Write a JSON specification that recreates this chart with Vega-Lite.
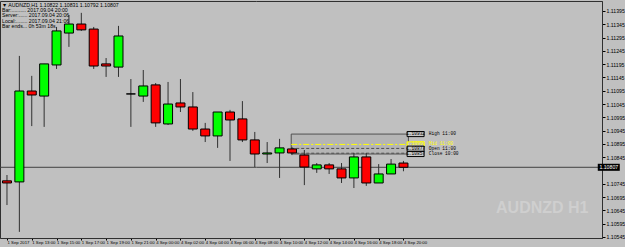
{
  "$schema": "https://vega.github.io/schema/vega-lite/v6.json",
  "width": 602,
  "height": 237,
  "autosize": {"type": "none"},
  "padding": {"left": 0, "top": 1, "right": 23, "bottom": 9},
  "background": "#c0c0c0",
  "config": {
    "view": {"stroke": "#303030", "strokeWidth": 1},
    "font": "Liberation Sans"
  },
  "title": {
    "text": ["▼ AUDNZD,H1  1.10822 1.10831 1.10792 1.10807", "Bar:.......... 2017.09.04 20:00", "Server:...... 2017.09.04 20:06", "Local:........ 2017.09.04 21:06", "Bar ends... 0h 53m 18s"],
    "anchor": "start",
    "frame": "group",
    "orient": "top",
    "baseline": "top",
    "offset": -28,
    "dx": 2,
    "fontSize": 5.2,
    "fontWeight": "normal",
    "font": "Liberation Sans",
    "color": "#000000",
    "lineHeight": 5.2
  },
  "resolve": {"scale": {"color": "independent", "fill": "independent", "stroke": "independent", "strokeDash": "independent"}},
  "datasets": {
    "candles": [
      {"i": 0, "o": 1.10756, "h": 1.10778, "l": 1.10665, "c": 1.10748, "dir": "down"},
      {"i": 1, "o": 1.10752, "h": 1.11226, "l": 1.10564, "c": 1.11094, "dir": "up"},
      {"i": 2, "o": 1.11094, "h": 1.11151, "l": 1.10962, "c": 1.11079, "dir": "down"},
      {"i": 3, "o": 1.11075, "h": 1.11196, "l": 1.10959, "c": 1.11196, "dir": "up"},
      {"i": 4, "o": 1.11192, "h": 1.11335, "l": 1.11177, "c": 1.11320, "dir": "up"},
      {"i": 5, "o": 1.11312, "h": 1.11380, "l": 1.11260, "c": 1.11346, "dir": "up"},
      {"i": 6, "o": 1.11346, "h": 1.11388, "l": 1.11320, "c": 1.11324, "dir": "down"},
      {"i": 7, "o": 1.11327, "h": 1.11335, "l": 1.11177, "c": 1.11188, "dir": "down"},
      {"i": 8, "o": 1.11196, "h": 1.11218, "l": 1.11147, "c": 1.11188, "dir": "down"},
      {"i": 9, "o": 1.11184, "h": 1.11339, "l": 1.11147, "c": 1.11301, "dir": "up"},
      {"i": 10, "o": 1.11083, "h": 1.11139, "l": 1.10959, "c": 1.11083, "dir": "up"},
      {"i": 11, "o": 1.11075, "h": 1.11173, "l": 1.11053, "c": 1.11113, "dir": "up"},
      {"i": 12, "o": 1.11117, "h": 1.11124, "l": 1.10959, "c": 1.10974, "dir": "down"},
      {"i": 13, "o": 1.10970, "h": 1.11128, "l": 1.10966, "c": 1.11045, "dir": "up"},
      {"i": 14, "o": 1.11049, "h": 1.11139, "l": 1.11015, "c": 1.11034, "dir": "down"},
      {"i": 15, "o": 1.11034, "h": 1.11090, "l": 1.10944, "c": 1.10951, "dir": "down"},
      {"i": 16, "o": 1.10951, "h": 1.10974, "l": 1.10902, "c": 1.10925, "dir": "down"},
      {"i": 17, "o": 1.10925, "h": 1.11015, "l": 1.10880, "c": 1.11015, "dir": "up"},
      {"i": 18, "o": 1.11015, "h": 1.11023, "l": 1.10831, "c": 1.10985, "dir": "down"},
      {"i": 19, "o": 1.10989, "h": 1.11056, "l": 1.10902, "c": 1.10910, "dir": "down"},
      {"i": 20, "o": 1.10910, "h": 1.10940, "l": 1.10808, "c": 1.10857, "dir": "down"},
      {"i": 21, "o": 1.10857, "h": 1.10902, "l": 1.10823, "c": 1.10861, "dir": "up"},
      {"i": 22, "o": 1.10861, "h": 1.10914, "l": 1.10767, "c": 1.10880, "dir": "up"},
      {"i": 23, "o": 1.10876, "h": 1.10884, "l": 1.10853, "c": 1.10861, "dir": "down"},
      {"i": 24, "o": 1.10853, "h": 1.10872, "l": 1.10740, "c": 1.10808, "dir": "down"},
      {"i": 25, "o": 1.10801, "h": 1.10823, "l": 1.10786, "c": 1.10816, "dir": "up"},
      {"i": 26, "o": 1.10816, "h": 1.10823, "l": 1.10782, "c": 1.10801, "dir": "down"},
      {"i": 27, "o": 1.10801, "h": 1.10823, "l": 1.10748, "c": 1.10767, "dir": "down"},
      {"i": 28, "o": 1.10767, "h": 1.10861, "l": 1.10729, "c": 1.10846, "dir": "up"},
      {"i": 29, "o": 1.10846, "h": 1.10861, "l": 1.10737, "c": 1.10748, "dir": "down"},
      {"i": 30, "o": 1.10748, "h": 1.10819, "l": 1.10748, "c": 1.10782, "dir": "up"},
      {"i": 31, "o": 1.10782, "h": 1.10838, "l": 1.10782, "c": 1.10819, "dir": "up"},
      {"i": 32, "o": 1.10823, "h": 1.10831, "l": 1.10792, "c": 1.10807, "dir": "down"}
    ],
    "box": [{"start": 22.94, "end": 32.4, "low": 1.10857, "high": 1.10932}],
    "levels": [
      {"start": 22.94, "end": 32.4, "p": 1.10893, "kind": "Mid"},
      {"start": 22.94, "end": 32.4, "p": 1.10878, "kind": "Open"},
      {"start": 22.94, "end": 32.4, "p": 1.10860, "kind": "Close"}
    ],
    "tags": [
      {"x": 32.98, "tx": 34.05, "p": 1.10932, "price": "1.10932", "name": "High 11:00", "kind": "High"},
      {"x": 32.98, "tx": 34.05, "p": 1.10893, "price": "1.10893", "name": "Mid 11:00", "kind": "Mid"},
      {"x": 32.98, "tx": 34.05, "p": 1.10877, "price": "1.10877", "name": "Open 11:00", "kind": "Open"},
      {"x": 32.98, "tx": 34.05, "p": 1.10857, "price": "1.10857", "name": "Close 10:00", "kind": "Close"}
    ],
    "current": [{"x": 48.57, "p": 1.10807, "label": "1.10807"}],
    "mark": [{"x": 43.2, "p": 1.10654, "label": "AUDNZD H1"}]
  },
  "layer": [
    {
      "data": {"name": "box"},
      "mark": {"type": "rect", "fill": "#b5b5b5", "stroke": "#505050", "strokeWidth": 1, "clip": true},
      "encoding": {
        "x": {"field": "start", "type": "quantitative", "scale": {"domain": [-0.16, 47.62], "nice": false, "zero": false},
          "axis": {"orient": "bottom", "title": null, "grid": false, "values": [0, 2, 4, 6, 8, 10, 12, 14, 16, 18, 20, 22, 24, 26, 28, 30, 32], "labelExpr": "['1 Sep 2017','1 Sep 13:00','1 Sep 15:00','1 Sep 17:00','1 Sep 19:00','1 Sep 21:00','4 Sep 00:00','4 Sep 02:00','4 Sep 04:00','4 Sep 06:00','4 Sep 08:00','4 Sep 10:00','4 Sep 12:00','4 Sep 14:00','4 Sep 16:00','4 Sep 18:00','4 Sep 20:00'][datum.value / 2]", "labelAlign": "left", "labelBaseline": "top", "labelFontSize": 4.3, "labelColor": "#000000", "labelPadding": 0, "tickSize": 2, "tickColor": "#000000", "domainColor": "#303030", "labelOverlap": false, "labelFlush": false, "labelBound": false}},
        "x2": {"field": "end"},
        "y": {"field": "low", "type": "quantitative", "scale": {"domain": [1.10541, 1.114326], "nice": false, "zero": false},
          "axis": {"orient": "right", "title": null, "grid": false, "values": [1.11395, 1.11345, 1.11295, 1.11245, 1.11195, 1.11145, 1.11095, 1.11045, 1.10995, 1.10945, 1.10895, 1.10845, 1.10745, 1.10695, 1.10645, 1.10595, 1.10545], "format": ".5f", "labelFontSize": 5.2, "labelColor": "#000000", "labelPadding": 1, "tickSize": 3, "tickColor": "#000000", "domainColor": "#303030", "labelOverlap": false, "labelFlush": false, "labelBound": false}},
        "y2": {"field": "high"}
      }
    },
    {
      "data": {"name": "levels"},
      "mark": {"type": "rule", "strokeWidth": 1, "clip": true},
      "encoding": {
        "x": {"field": "start", "type": "quantitative", "scale": {"domain": [-0.16, 47.62], "nice": false, "zero": false},
          "axis": {"orient": "bottom", "title": null, "grid": false, "values": [0, 2, 4, 6, 8, 10, 12, 14, 16, 18, 20, 22, 24, 26, 28, 30, 32], "labelExpr": "['1 Sep 2017','1 Sep 13:00','1 Sep 15:00','1 Sep 17:00','1 Sep 19:00','1 Sep 21:00','4 Sep 00:00','4 Sep 02:00','4 Sep 04:00','4 Sep 06:00','4 Sep 08:00','4 Sep 10:00','4 Sep 12:00','4 Sep 14:00','4 Sep 16:00','4 Sep 18:00','4 Sep 20:00'][datum.value / 2]", "labelAlign": "left", "labelBaseline": "top", "labelFontSize": 4.3, "labelColor": "#000000", "labelPadding": 0, "tickSize": 2, "tickColor": "#000000", "domainColor": "#303030", "labelOverlap": false, "labelFlush": false, "labelBound": false}},
        "x2": {"field": "end"},
        "y": {"field": "p", "type": "quantitative", "scale": {"domain": [1.10541, 1.114326], "nice": false, "zero": false},
          "axis": {"orient": "right", "title": null, "grid": false, "values": [1.11395, 1.11345, 1.11295, 1.11245, 1.11195, 1.11145, 1.11095, 1.11045, 1.10995, 1.10945, 1.10895, 1.10845, 1.10745, 1.10695, 1.10645, 1.10595, 1.10545], "format": ".5f", "labelFontSize": 5.2, "labelColor": "#000000", "labelPadding": 1, "tickSize": 3, "tickColor": "#000000", "domainColor": "#303030", "labelOverlap": false, "labelFlush": false, "labelBound": false}},
        "color": {"field": "kind", "type": "nominal", "scale": {"domain": ["Mid", "Open", "Close"], "range": ["#ffff00", "#505050", "#505050"]}, "legend": null},
        "strokeDash": {"field": "kind", "type": "nominal", "scale": {"domain": ["Mid", "Open", "Close"], "range": [[6, 2, 2, 2], [3, 2], [3, 2]]}, "legend": null}
      }
    },
    {
      "data": {"name": "current"},
      "mark": {"type": "rule", "color": "#404040", "strokeWidth": 1},
      "encoding": {
        "y": {"field": "p", "type": "quantitative", "scale": {"domain": [1.10541, 1.114326], "nice": false, "zero": false},
          "axis": {"orient": "right", "title": null, "grid": false, "values": [1.11395, 1.11345, 1.11295, 1.11245, 1.11195, 1.11145, 1.11095, 1.11045, 1.10995, 1.10945, 1.10895, 1.10845, 1.10745, 1.10695, 1.10645, 1.10595, 1.10545], "format": ".5f", "labelFontSize": 5.2, "labelColor": "#000000", "labelPadding": 1, "tickSize": 3, "tickColor": "#000000", "domainColor": "#303030", "labelOverlap": false, "labelFlush": false, "labelBound": false}}
      }
    },
    {
      "data": {"name": "candles"},
      "mark": {"type": "rule", "color": "#303030", "strokeWidth": 1, "clip": true},
      "encoding": {
        "x": {"field": "i", "type": "quantitative", "scale": {"domain": [-0.16, 47.62], "nice": false, "zero": false},
          "axis": {"orient": "bottom", "title": null, "grid": false, "values": [0, 2, 4, 6, 8, 10, 12, 14, 16, 18, 20, 22, 24, 26, 28, 30, 32], "labelExpr": "['1 Sep 2017','1 Sep 13:00','1 Sep 15:00','1 Sep 17:00','1 Sep 19:00','1 Sep 21:00','4 Sep 00:00','4 Sep 02:00','4 Sep 04:00','4 Sep 06:00','4 Sep 08:00','4 Sep 10:00','4 Sep 12:00','4 Sep 14:00','4 Sep 16:00','4 Sep 18:00','4 Sep 20:00'][datum.value / 2]", "labelAlign": "left", "labelBaseline": "top", "labelFontSize": 4.3, "labelColor": "#000000", "labelPadding": 0, "tickSize": 2, "tickColor": "#000000", "domainColor": "#303030", "labelOverlap": false, "labelFlush": false, "labelBound": false}},
        "y": {"field": "l", "type": "quantitative", "scale": {"domain": [1.10541, 1.114326], "nice": false, "zero": false},
          "axis": {"orient": "right", "title": null, "grid": false, "values": [1.11395, 1.11345, 1.11295, 1.11245, 1.11195, 1.11145, 1.11095, 1.11045, 1.10995, 1.10945, 1.10895, 1.10845, 1.10745, 1.10695, 1.10645, 1.10595, 1.10545], "format": ".5f", "labelFontSize": 5.2, "labelColor": "#000000", "labelPadding": 1, "tickSize": 3, "tickColor": "#000000", "domainColor": "#303030", "labelOverlap": false, "labelFlush": false, "labelBound": false}},
        "y2": {"field": "h"}
      }
    },
    {
      "data": {"name": "candles"},
      "mark": {"type": "bar", "size": 9, "stroke": "#000000", "strokeWidth": 1, "clip": true},
      "encoding": {
        "x": {"field": "i", "type": "quantitative", "scale": {"domain": [-0.16, 47.62], "nice": false, "zero": false},
          "axis": {"orient": "bottom", "title": null, "grid": false, "values": [0, 2, 4, 6, 8, 10, 12, 14, 16, 18, 20, 22, 24, 26, 28, 30, 32], "labelExpr": "['1 Sep 2017','1 Sep 13:00','1 Sep 15:00','1 Sep 17:00','1 Sep 19:00','1 Sep 21:00','4 Sep 00:00','4 Sep 02:00','4 Sep 04:00','4 Sep 06:00','4 Sep 08:00','4 Sep 10:00','4 Sep 12:00','4 Sep 14:00','4 Sep 16:00','4 Sep 18:00','4 Sep 20:00'][datum.value / 2]", "labelAlign": "left", "labelBaseline": "top", "labelFontSize": 4.3, "labelColor": "#000000", "labelPadding": 0, "tickSize": 2, "tickColor": "#000000", "domainColor": "#303030", "labelOverlap": false, "labelFlush": false, "labelBound": false}},
        "y": {"field": "o", "type": "quantitative", "scale": {"domain": [1.10541, 1.114326], "nice": false, "zero": false},
          "axis": {"orient": "right", "title": null, "grid": false, "values": [1.11395, 1.11345, 1.11295, 1.11245, 1.11195, 1.11145, 1.11095, 1.11045, 1.10995, 1.10945, 1.10895, 1.10845, 1.10745, 1.10695, 1.10645, 1.10595, 1.10545], "format": ".5f", "labelFontSize": 5.2, "labelColor": "#000000", "labelPadding": 1, "tickSize": 3, "tickColor": "#000000", "domainColor": "#303030", "labelOverlap": false, "labelFlush": false, "labelBound": false}},
        "y2": {"field": "c"},
        "color": {"field": "dir", "type": "nominal", "scale": {"domain": ["up", "down"], "range": ["#00ff00", "#ff0000"]}, "legend": null}
      }
    },
    {
      "data": {"name": "tags"},
      "mark": {"type": "point", "shape": "M-1,-0.3H1V0.3H-1Z", "size": 289, "filled": true, "strokeWidth": 1, "opacity": 1},
      "encoding": {
        "x": {"field": "x", "type": "quantitative", "scale": {"domain": [-0.16, 47.62], "nice": false, "zero": false},
          "axis": {"orient": "bottom", "title": null, "grid": false, "values": [0, 2, 4, 6, 8, 10, 12, 14, 16, 18, 20, 22, 24, 26, 28, 30, 32], "labelExpr": "['1 Sep 2017','1 Sep 13:00','1 Sep 15:00','1 Sep 17:00','1 Sep 19:00','1 Sep 21:00','4 Sep 00:00','4 Sep 02:00','4 Sep 04:00','4 Sep 06:00','4 Sep 08:00','4 Sep 10:00','4 Sep 12:00','4 Sep 14:00','4 Sep 16:00','4 Sep 18:00','4 Sep 20:00'][datum.value / 2]", "labelAlign": "left", "labelBaseline": "top", "labelFontSize": 4.3, "labelColor": "#000000", "labelPadding": 0, "tickSize": 2, "tickColor": "#000000", "domainColor": "#303030", "labelOverlap": false, "labelFlush": false, "labelBound": false}},
        "y": {"field": "p", "type": "quantitative", "scale": {"domain": [1.10541, 1.114326], "nice": false, "zero": false},
          "axis": {"orient": "right", "title": null, "grid": false, "values": [1.11395, 1.11345, 1.11295, 1.11245, 1.11195, 1.11145, 1.11095, 1.11045, 1.10995, 1.10945, 1.10895, 1.10845, 1.10745, 1.10695, 1.10645, 1.10595, 1.10545], "format": ".5f", "labelFontSize": 5.2, "labelColor": "#000000", "labelPadding": 1, "tickSize": 3, "tickColor": "#000000", "domainColor": "#303030", "labelOverlap": false, "labelFlush": false, "labelBound": false}},
        "fill": {"field": "kind", "type": "nominal", "scale": {"domain": ["High", "Mid", "Open", "Close"], "range": ["#c8c8c8", "#c0c0c0", "#c8c8c8", "#c8c8c8"]}, "legend": null},
        "stroke": {"field": "kind", "type": "nominal", "scale": {"domain": ["High", "Mid", "Open", "Close"], "range": ["#000000", "#ffff00", "#000000", "#000000"]}, "legend": null}
      }
    },
    {
      "data": {"name": "tags"},
      "mark": {"type": "text", "fontSize": 4.5, "font": "Liberation Mono", "align": "center", "baseline": "middle"},
      "encoding": {
        "x": {"field": "x", "type": "quantitative", "scale": {"domain": [-0.16, 47.62], "nice": false, "zero": false},
          "axis": {"orient": "bottom", "title": null, "grid": false, "values": [0, 2, 4, 6, 8, 10, 12, 14, 16, 18, 20, 22, 24, 26, 28, 30, 32], "labelExpr": "['1 Sep 2017','1 Sep 13:00','1 Sep 15:00','1 Sep 17:00','1 Sep 19:00','1 Sep 21:00','4 Sep 00:00','4 Sep 02:00','4 Sep 04:00','4 Sep 06:00','4 Sep 08:00','4 Sep 10:00','4 Sep 12:00','4 Sep 14:00','4 Sep 16:00','4 Sep 18:00','4 Sep 20:00'][datum.value / 2]", "labelAlign": "left", "labelBaseline": "top", "labelFontSize": 4.3, "labelColor": "#000000", "labelPadding": 0, "tickSize": 2, "tickColor": "#000000", "domainColor": "#303030", "labelOverlap": false, "labelFlush": false, "labelBound": false}},
        "y": {"field": "p", "type": "quantitative", "scale": {"domain": [1.10541, 1.114326], "nice": false, "zero": false},
          "axis": {"orient": "right", "title": null, "grid": false, "values": [1.11395, 1.11345, 1.11295, 1.11245, 1.11195, 1.11145, 1.11095, 1.11045, 1.10995, 1.10945, 1.10895, 1.10845, 1.10745, 1.10695, 1.10645, 1.10595, 1.10545], "format": ".5f", "labelFontSize": 5.2, "labelColor": "#000000", "labelPadding": 1, "tickSize": 3, "tickColor": "#000000", "domainColor": "#303030", "labelOverlap": false, "labelFlush": false, "labelBound": false}},
        "text": {"field": "price"},
        "color": {"field": "kind", "type": "nominal", "scale": {"domain": ["High", "Mid", "Open", "Close"], "range": ["#000000", "#ffff00", "#000000", "#000000"]}, "legend": null}
      }
    },
    {
      "data": {"name": "tags"},
      "mark": {"type": "text", "fontSize": 4.5, "font": "Liberation Mono", "align": "left", "baseline": "middle"},
      "encoding": {
        "x": {"field": "tx", "type": "quantitative", "scale": {"domain": [-0.16, 47.62], "nice": false, "zero": false},
          "axis": {"orient": "bottom", "title": null, "grid": false, "values": [0, 2, 4, 6, 8, 10, 12, 14, 16, 18, 20, 22, 24, 26, 28, 30, 32], "labelExpr": "['1 Sep 2017','1 Sep 13:00','1 Sep 15:00','1 Sep 17:00','1 Sep 19:00','1 Sep 21:00','4 Sep 00:00','4 Sep 02:00','4 Sep 04:00','4 Sep 06:00','4 Sep 08:00','4 Sep 10:00','4 Sep 12:00','4 Sep 14:00','4 Sep 16:00','4 Sep 18:00','4 Sep 20:00'][datum.value / 2]", "labelAlign": "left", "labelBaseline": "top", "labelFontSize": 4.3, "labelColor": "#000000", "labelPadding": 0, "tickSize": 2, "tickColor": "#000000", "domainColor": "#303030", "labelOverlap": false, "labelFlush": false, "labelBound": false}},
        "y": {"field": "p", "type": "quantitative", "scale": {"domain": [1.10541, 1.114326], "nice": false, "zero": false},
          "axis": {"orient": "right", "title": null, "grid": false, "values": [1.11395, 1.11345, 1.11295, 1.11245, 1.11195, 1.11145, 1.11095, 1.11045, 1.10995, 1.10945, 1.10895, 1.10845, 1.10745, 1.10695, 1.10645, 1.10595, 1.10545], "format": ".5f", "labelFontSize": 5.2, "labelColor": "#000000", "labelPadding": 1, "tickSize": 3, "tickColor": "#000000", "domainColor": "#303030", "labelOverlap": false, "labelFlush": false, "labelBound": false}},
        "text": {"field": "name"},
        "color": {"field": "kind", "type": "nominal", "scale": {"domain": ["High", "Mid", "Open", "Close"], "range": ["#000000", "#ffff00", "#000000", "#000000"]}, "legend": null}
      }
    },
    {
      "data": {"name": "mark"},
      "mark": {"type": "text", "fontSize": 16, "fontWeight": "bold", "font": "Liberation Sans", "color": "#cfcfcf", "align": "center", "baseline": "middle"},
      "encoding": {
        "x": {"field": "x", "type": "quantitative", "scale": {"domain": [-0.16, 47.62], "nice": false, "zero": false},
          "axis": {"orient": "bottom", "title": null, "grid": false, "values": [0, 2, 4, 6, 8, 10, 12, 14, 16, 18, 20, 22, 24, 26, 28, 30, 32], "labelExpr": "['1 Sep 2017','1 Sep 13:00','1 Sep 15:00','1 Sep 17:00','1 Sep 19:00','1 Sep 21:00','4 Sep 00:00','4 Sep 02:00','4 Sep 04:00','4 Sep 06:00','4 Sep 08:00','4 Sep 10:00','4 Sep 12:00','4 Sep 14:00','4 Sep 16:00','4 Sep 18:00','4 Sep 20:00'][datum.value / 2]", "labelAlign": "left", "labelBaseline": "top", "labelFontSize": 4.3, "labelColor": "#000000", "labelPadding": 0, "tickSize": 2, "tickColor": "#000000", "domainColor": "#303030", "labelOverlap": false, "labelFlush": false, "labelBound": false}},
        "y": {"field": "p", "type": "quantitative", "scale": {"domain": [1.10541, 1.114326], "nice": false, "zero": false},
          "axis": {"orient": "right", "title": null, "grid": false, "values": [1.11395, 1.11345, 1.11295, 1.11245, 1.11195, 1.11145, 1.11095, 1.11045, 1.10995, 1.10945, 1.10895, 1.10845, 1.10745, 1.10695, 1.10645, 1.10595, 1.10545], "format": ".5f", "labelFontSize": 5.2, "labelColor": "#000000", "labelPadding": 1, "tickSize": 3, "tickColor": "#000000", "domainColor": "#303030", "labelOverlap": false, "labelFlush": false, "labelBound": false}},
        "text": {"field": "label"}
      }
    },
    {
      "data": {"name": "current"},
      "mark": {"type": "point", "shape": "M-1,-0.32H1V0.32H-1Z", "size": 484, "filled": true, "color": "#000000", "opacity": 1, "clip": false},
      "encoding": {
        "x": {"field": "x", "type": "quantitative", "scale": {"domain": [-0.16, 47.62], "nice": false, "zero": false},
          "axis": {"orient": "bottom", "title": null, "grid": false, "values": [0, 2, 4, 6, 8, 10, 12, 14, 16, 18, 20, 22, 24, 26, 28, 30, 32], "labelExpr": "['1 Sep 2017','1 Sep 13:00','1 Sep 15:00','1 Sep 17:00','1 Sep 19:00','1 Sep 21:00','4 Sep 00:00','4 Sep 02:00','4 Sep 04:00','4 Sep 06:00','4 Sep 08:00','4 Sep 10:00','4 Sep 12:00','4 Sep 14:00','4 Sep 16:00','4 Sep 18:00','4 Sep 20:00'][datum.value / 2]", "labelAlign": "left", "labelBaseline": "top", "labelFontSize": 4.3, "labelColor": "#000000", "labelPadding": 0, "tickSize": 2, "tickColor": "#000000", "domainColor": "#303030", "labelOverlap": false, "labelFlush": false, "labelBound": false}},
        "y": {"field": "p", "type": "quantitative", "scale": {"domain": [1.10541, 1.114326], "nice": false, "zero": false},
          "axis": {"orient": "right", "title": null, "grid": false, "values": [1.11395, 1.11345, 1.11295, 1.11245, 1.11195, 1.11145, 1.11095, 1.11045, 1.10995, 1.10945, 1.10895, 1.10845, 1.10745, 1.10695, 1.10645, 1.10595, 1.10545], "format": ".5f", "labelFontSize": 5.2, "labelColor": "#000000", "labelPadding": 1, "tickSize": 3, "tickColor": "#000000", "domainColor": "#303030", "labelOverlap": false, "labelFlush": false, "labelBound": false}}
      }
    },
    {
      "data": {"name": "current"},
      "mark": {"type": "text", "fontSize": 5.2, "color": "#ffffff", "align": "center", "baseline": "middle", "clip": false},
      "encoding": {
        "x": {"field": "x", "type": "quantitative", "scale": {"domain": [-0.16, 47.62], "nice": false, "zero": false},
          "axis": {"orient": "bottom", "title": null, "grid": false, "values": [0, 2, 4, 6, 8, 10, 12, 14, 16, 18, 20, 22, 24, 26, 28, 30, 32], "labelExpr": "['1 Sep 2017','1 Sep 13:00','1 Sep 15:00','1 Sep 17:00','1 Sep 19:00','1 Sep 21:00','4 Sep 00:00','4 Sep 02:00','4 Sep 04:00','4 Sep 06:00','4 Sep 08:00','4 Sep 10:00','4 Sep 12:00','4 Sep 14:00','4 Sep 16:00','4 Sep 18:00','4 Sep 20:00'][datum.value / 2]", "labelAlign": "left", "labelBaseline": "top", "labelFontSize": 4.3, "labelColor": "#000000", "labelPadding": 0, "tickSize": 2, "tickColor": "#000000", "domainColor": "#303030", "labelOverlap": false, "labelFlush": false, "labelBound": false}},
        "y": {"field": "p", "type": "quantitative", "scale": {"domain": [1.10541, 1.114326], "nice": false, "zero": false},
          "axis": {"orient": "right", "title": null, "grid": false, "values": [1.11395, 1.11345, 1.11295, 1.11245, 1.11195, 1.11145, 1.11095, 1.11045, 1.10995, 1.10945, 1.10895, 1.10845, 1.10745, 1.10695, 1.10645, 1.10595, 1.10545], "format": ".5f", "labelFontSize": 5.2, "labelColor": "#000000", "labelPadding": 1, "tickSize": 3, "tickColor": "#000000", "domainColor": "#303030", "labelOverlap": false, "labelFlush": false, "labelBound": false}},
        "text": {"field": "label"}
      }
    }
  ]
}
